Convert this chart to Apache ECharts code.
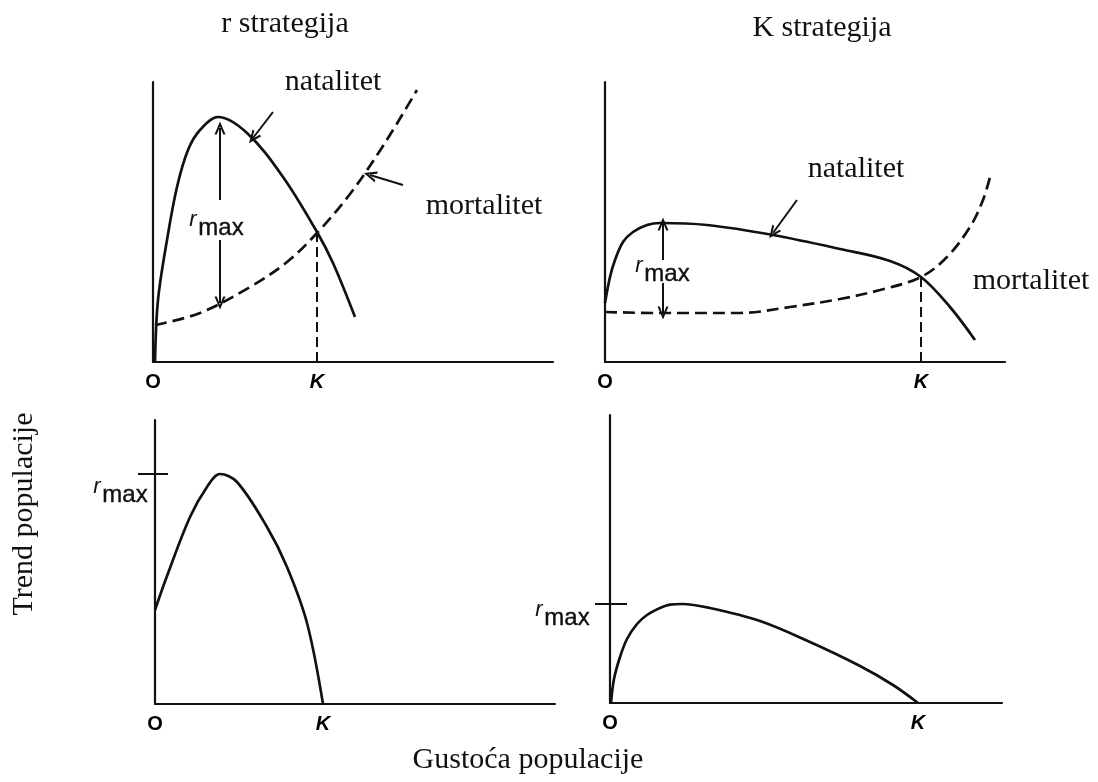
<!DOCTYPE html>
<html>
<head>
<meta charset="utf-8">
<title>r i K strategija</title>
<script src="https://cdn.jsdelivr.net/npm/echarts@6.0.0/dist/echarts.min.js"></script>
<style>
    html, body { margin: 0; padding: 0; background: #fff; }
    #chart { width: 1098px; height: 782px; }
</style>
</head>
<body>
<div id="chart"></div>
<script>
// values, x = population density, y = rate
const rNatalitet = [[0.5, 0], [1.25, 15.5], [3.5, 30.5], [6, 43.75], [8.75, 53], [11.75, 58], [16.25, 61.25],
    [23.5, 57.25], [32.5, 46.25], [41, 32.5], [45, 24.75], [50.5, 11.25]];
const rMortalitet = [[0.5, 9.25], [11.75, 12.25], [24.25, 18.75], [33.5, 25], [41, 32.25], [49.25, 42],
    [57.5, 54], [66, 68]];
const rK = [41, 32.4];

const kNatalitet = [[0, 14.75], [1.25, 21.25], [2.5, 25.5], [4.5, 30], [7, 32.5], [10.5, 34.25], [13.75, 34.75],
    [25.5, 34.25], [42, 31.75], [58.75, 28.25], [71.25, 25.25], [79, 21.25], [86.25, 13.75], [92.5, 5.5]];
const kMortalitet = [[0, 12.5], [13, 12.25], [33.75, 12.25], [46.25, 13.75], [58.75, 15.75], [68.75, 18],
    [79, 21.25], [85.5, 26.25], [91.25, 33.75], [94.5, 40.5], [96.25, 46.25]];
const kK = [79, 21.25];

const rTrend = [[0, 23.5], [3, 32], [8.75, 46.75], [13, 54.25], [16.25, 57.5], [20.5, 55.5], [28, 44.25],
    [33, 34.25], [38, 20.25], [42, 0]];
const kTrend = [[0.25, 0], [1, 6], [2.5, 11.5], [4.25, 16], [6.75, 19.75], [9.25, 22], [12.5, 23.75], [15, 24.6],
    [18, 24.75], [25, 23.75], [37.5, 20.5], [50, 15.25], [62.5, 9.25], [70.75, 4.5], [77, 0]];
const rTrendK = 42;
const kTrendK = 77;

const rMaxTick = [[-4.25, 57.5], [3.25, 57.5]];
const kMaxTick = [[-3.75, 24.75], [4.25, 24.75]];

// arrows: [from, to], arrowhead at "to"
const rArrows = [
    [[16.75, 40.5], [16.75, 58.5]],
    [[16.75, 30.5], [16.75, 14.75]],
    [[30, 62.5], [25, 56]],
    [[62.5, 44.25], [54.25, 46.75]]
];
const kArrows = [
    [[14.5, 25.5], [14.5, 34.5]],
    [[14.5, 19.75], [14.5, 12.25]],
    [[48, 40.5], [42, 32.25]]
];

const INK = '#111';
const chevron = 'path://M10,0L20,16L16,16L10,6L4,16L0,16Z';

function axisPair(idx, xmax, ymax) {
    const base = {
        type: 'value', gridIndex: idx, min: 0,
        axisLine: {show: true, onZero: false, lineStyle: {color: INK, width: 2.2}},
        axisTick: {show: false}, axisLabel: {show: false}, splitLine: {show: false}
    };
    return [Object.assign({}, base, {max: xmax}), Object.assign({}, base, {max: ymax})];
}

function curve(idx, data, dashed) {
    return {
        type: 'line', xAxisIndex: idx, yAxisIndex: idx, data: data,
        smooth: 0.35, symbol: 'none', silent: true, clip: false,
        lineStyle: {color: INK, width: 2.7, type: dashed ? [12, 6] : 'solid'}
    };
}

function kLine(idx, k) {
    return {
        type: 'line', xAxisIndex: idx, yAxisIndex: idx, data: [[k[0], 0], [k[0], k[1]]],
        symbol: 'none', silent: true,
        lineStyle: {color: INK, width: 2, type: [10, 5]}
    };
}

function arrows(idx, list) {
    return {
        type: 'line', xAxisIndex: idx, yAxisIndex: idx, data: [], silent: true,
        markLine: {
            silent: true, animation: false,
            symbol: ['none', chevron], symbolSize: [11, 13],
            label: {show: false},
            lineStyle: {color: INK, width: 2, type: 'solid'},
            data: list.map(a => [{coord: a[0]}, {coord: a[1]}])
        }
    };
}

// short tick next to r_max, it sticks out left of the y axis
function tick(idx, pts) {
    return {
        type: 'custom', xAxisIndex: idx, yAxisIndex: idx, silent: true, clip: false,
        data: [pts[0].concat(pts[1])],
        renderItem: function (params, api) {
            const a = api.coord([api.value(0), api.value(1)]);
            const b = api.coord([api.value(2), api.value(3)]);
            return {
                type: 'line',
                shape: {x1: a[0], y1: a[1], x2: b[0], y2: b[1]},
                style: {stroke: INK, lineWidth: 2}
            };
        }
    };
}

function okLabels(idx, k) {
    return {
        type: 'scatter', xAxisIndex: idx, yAxisIndex: idx, silent: true,
        symbolSize: 1, itemStyle: {color: 'transparent', opacity: 1},
        label: {
            show: true, position: 'bottom', distance: 10, formatter: '{b}', opacity: 1,
            fontFamily: 'Liberation Sans', fontSize: 20, fontWeight: 'bold', color: '#000'
        },
        data: [
            {name: 'O', value: [0, 0]},
            {name: 'K', value: [k, 0], label: {fontStyle: 'italic'}}
        ]
    };
}

function serif(text, x, y, rot) {
    return {
        type: 'text', x: x, y: y, rotation: rot || 0, silent: true,
        style: {
            text: text, fontFamily: 'Liberation Serif', fontSize: 30, fill: INK,
            align: 'center', verticalAlign: 'middle'
        }
    };
}

function rmax(x, y) {
    return [
        {
            type: 'text', x: x - 28, y: y - 8, silent: true,
            style: {text: 'r', fontFamily: 'Liberation Sans', fontStyle: 'italic', fontSize: 22, fill: INK,
                align: 'center', verticalAlign: 'middle'}
        },
        {
            type: 'text', x: x, y: y, silent: true,
            style: {text: 'max', fontFamily: 'Liberation Sans', fontSize: 24, fill: INK,
                stroke: INK, lineWidth: 0.4, align: 'center', verticalAlign: 'middle'}
        }
    ];
}

const ax0 = axisPair(0, 100, 70);
const ax1 = axisPair(1, 100, 70);
const ax2 = axisPair(2, 100, 71);
const ax3 = axisPair(3, 98, 72);

const option = {
    backgroundColor: '#fff',
    animation: false,
    grid: [
        {left: 153, top: 82, width: 400, height: 280},
        {left: 605, top: 82, width: 400, height: 280},
        {left: 155, top: 420, width: 400, height: 284},
        {left: 610, top: 415, width: 392, height: 288}
    ],
    xAxis: [ax0[0], ax1[0], ax2[0], ax3[0]],
    yAxis: [ax0[1], ax1[1], ax2[1], ax3[1]],
    series: [
        curve(0, rNatalitet, false),
        curve(0, rMortalitet, true),
        kLine(0, rK),
        arrows(0, rArrows),
        okLabels(0, rK[0]),

        curve(1, kNatalitet, false),
        curve(1, kMortalitet, true),
        kLine(1, kK),
        arrows(1, kArrows),
        okLabels(1, kK[0]),

        curve(2, rTrend, false),
        tick(2, rMaxTick),
        okLabels(2, rTrendK),

        curve(3, kTrend, false),
        tick(3, kMaxTick),
        okLabels(3, kTrendK)
    ],
    graphic: {
        elements: [
            serif('r strategija', 285, 24),
            serif('K strategija', 822, 28),
            serif('natalitet', 333, 82),
            serif('mortalitet', 484, 206),
            serif('natalitet', 856, 169),
            serif('mortalitet', 1031, 281),
            serif('Trend populacije', 24, 514, Math.PI / 2),
            serif('Gustoća populacije', 528, 760)
        ].concat(rmax(221, 228), rmax(667, 274), rmax(125, 495), rmax(567, 618))
    }
};

const chart = echarts.init(document.getElementById('chart'), null, {renderer: 'canvas'});
chart.setOption(option);
</script>
</body>
</html>
